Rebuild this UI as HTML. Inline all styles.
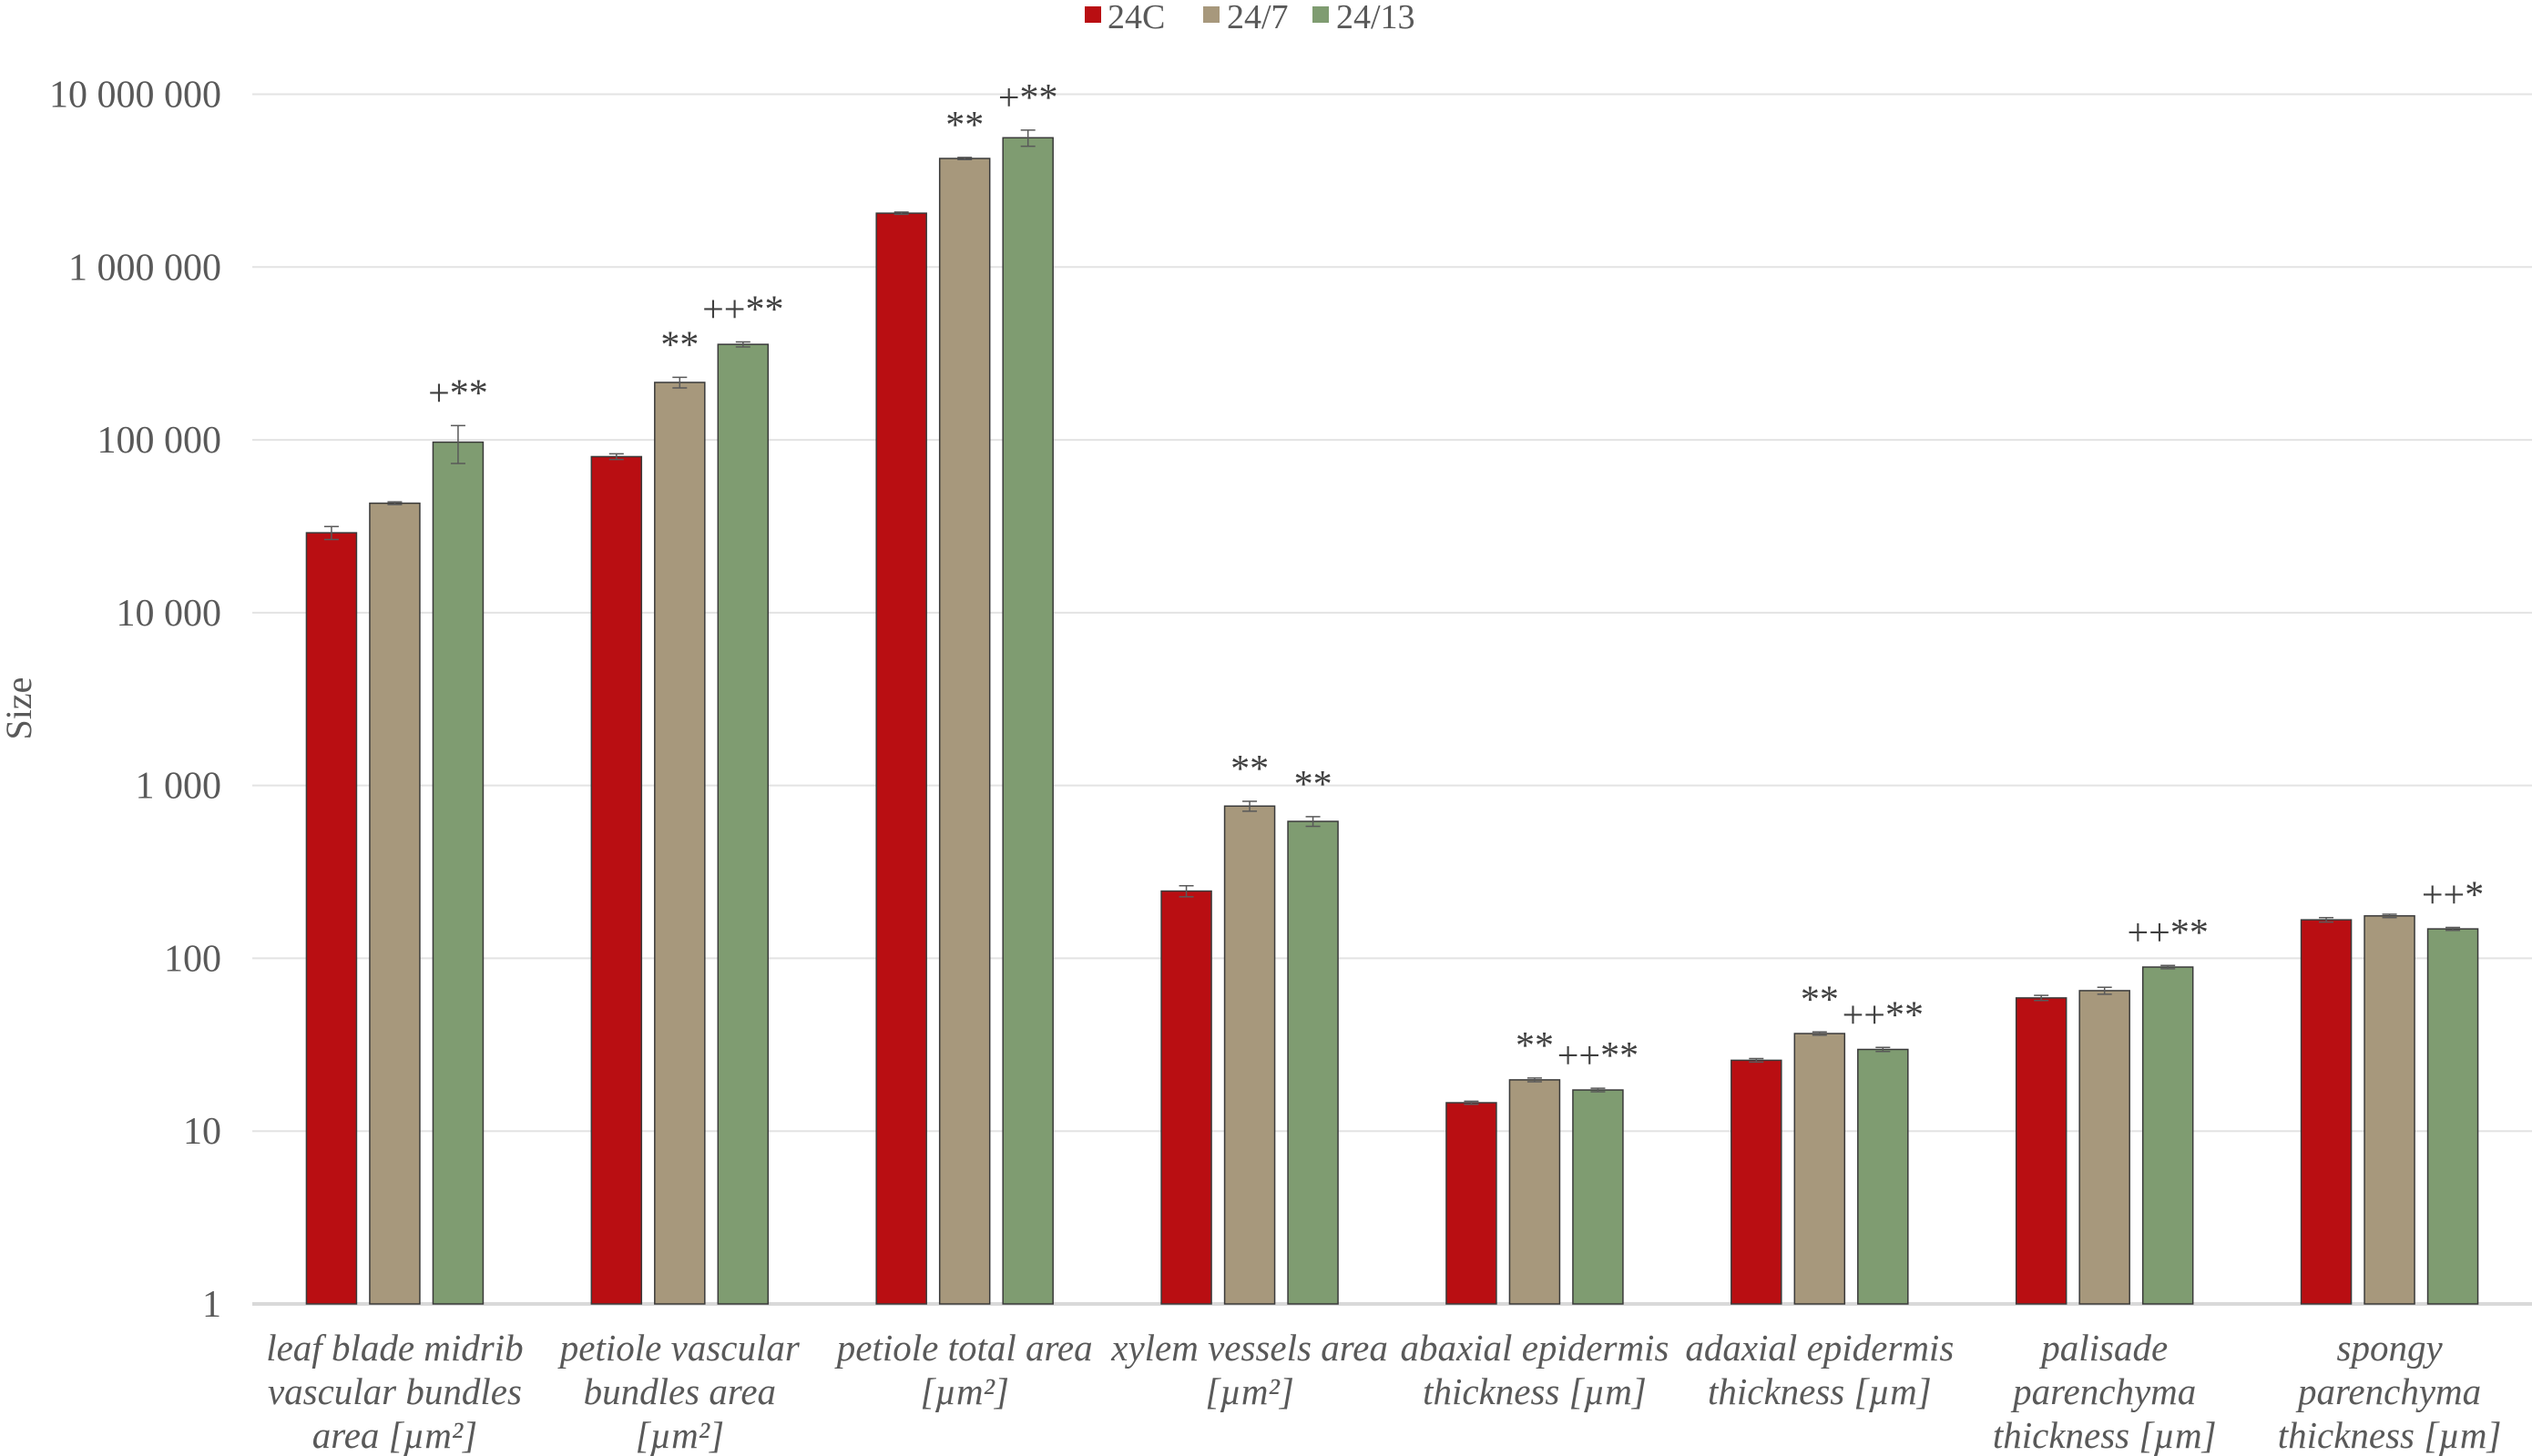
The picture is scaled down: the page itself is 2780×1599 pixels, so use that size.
<!DOCTYPE html>
<html><head><meta charset="utf-8">
<style>
html,body{margin:0;padding:0;background:#fff;}
svg{display:block;font-family:"Liberation Serif",serif;}
</style></head>
<body>
<svg id="chart" width="2780" height="1599" viewBox="0 0 2780 1599" xmlns="http://www.w3.org/2000/svg">
<g id="grid"></g>
<g id="yticks"></g>
<g id="bars"></g>
<g id="xlabels"></g>
<text x="0" y="0" transform="translate(34,778) rotate(-90)" text-anchor="middle" font-size="40" fill="#595959">Size</text>
<g>
 <g><rect x="1191" y="7" width="18" height="18" fill="#b90e12"/><text x="1216" y="31" font-size="38" fill="#595959">24C</text></g>
 <g><rect x="1321" y="7" width="18" height="18" fill="#a7987c"/><text x="1347" y="31" font-size="38" fill="#595959">24/7</text></g>
 <g><rect x="1441" y="7" width="18" height="18" fill="#7f9c71"/><text x="1467" y="31" font-size="38" fill="#595959">24/13</text></g>
</g>
</svg>
<script>
const categories = [
 ["leaf blade midrib","vascular bundles","area [µm²]"],
 ["petiole vascular","bundles area","[µm²]"],
 ["petiole total area","[µm²]"],
 ["xylem vessels area","[µm²]"],
 ["abaxial epidermis","thickness [µm]"],
 ["adaxial epidermis","thickness [µm]"],
 ["palisade","parenchyma","thickness [µm]"],
 ["spongy","parenchyma","thickness [µm]"]
];
const seriesNames = ["24C","24/7","24/13"];
const values24C = [29000, 80000, 2050000, 245, 14.6, 25.7, 59, 167];
const values247 = [43000, 215000, 4250000, 760, 19.8, 36.7, 65, 176];
const values2413 = [97000, 357000, 5600000, 620, 17.3, 29.7, 89, 148];
const errors24C = [2500, 3000, 30000, 18, 0.3, 0.6, 2, 5];
const errors247 = [800, 15000, 60000, 50, 0.5, 0.8, 3, 4];
const errors2413 = [24000, 12000, 600000, 40, 0.4, 0.8, 2, 3];
const marks24C = ["","","","","","","",""];
const marks247 = ["","**","**","**","**","**","",""];
const marks2413 = ["+**","++**","+**","**","++**","++**","++**","++*"];
const tickValues = [1,10,100,1000,10000,100000,1000000,10000000];
const tickLabels = ["1","10","100","1 000","10 000","100 000","1 000 000","10 000 000"];

const colors = ["#b90e12","#a7987c","#7f9c71"];
const NS = "http://www.w3.org/2000/svg";
const plotL = 277, plotR = 2780, yTop = 103.5, yBot = 1432, decades = 7;
const catW = (plotR - plotL) / categories.length;
const barW = 55, barStep = 69.5;
function yScale(v){ return yBot - (Math.log10(v) / decades) * (yBot - yTop); }
function xCenter(i){ return plotL + catW * (i + 0.5); }
function mk(tag, attrs, parent){ const e=document.createElementNS(NS,tag); for(const k in attrs) e.setAttribute(k,attrs[k]); parent.appendChild(e); return e; }

const grid = document.getElementById('grid');
const yt = document.getElementById('yticks');
tickValues.forEach((t,i)=>{
  const y = yScale(t);
  const ln = mk('line',{x1:plotL,x2:plotR,y1:y,y2:y,stroke: i===0?'#d9d9d9':'#e3e3e3','stroke-width': i===0?4:2},grid);
  
  
  const tx = mk('text',{x:243,y:y+14,'text-anchor':'end','font-size':42,fill:'#595959'},yt);
  tx.textContent = tickLabels[i];
  
  
});

const bars = document.getElementById('bars');
const allVals = [values24C, values247, values2413];
const allErr = [errors24C, errors247, errors2413];
const allMarks = [marks24C, marks247, marks2413];
categories.forEach((c,i)=>{
  for(let s=0;s<3;s++){
    const v = allVals[s][i], e = allErr[s][i];
    const cx = xCenter(i) + (s-1)*barStep;
    const y = yScale(v);
    const r = mk('rect',{x:cx-barW/2,y:y,width:barW,height:yBot-y,fill:colors[s],stroke:'#3a3a3a','stroke-width':1.5},bars);
    
    
    const yh = yScale(v+e), yl = yScale(Math.max(v-e, v*0.01));
    const eb = mk('path',{d:`M${cx},${yh}V${yl}M${cx-8},${yh}H${cx+8}M${cx-8},${yl}H${cx+8}`,stroke:'#595959','stroke-width':1.5,fill:'none'},bars);
    
    
    const m = allMarks[s][i];
    if(m){
      const t = mk('text',{x:cx,y:yh-22,'text-anchor':'middle','font-size':42,fill:'#404040'},bars);
      t.textContent = m;
      
      
    }
  }
  const lbl = mk('text',{'text-anchor':'middle','font-size':41,'font-style':'italic',fill:'#595959'},document.getElementById('xlabels'));
  
  
  c.forEach((line,k)=>{
    const ts = mk('tspan',{x:xCenter(i),y:1494+k*48},lbl);
    ts.textContent = line;
  });
});
</script>
</body></html>
